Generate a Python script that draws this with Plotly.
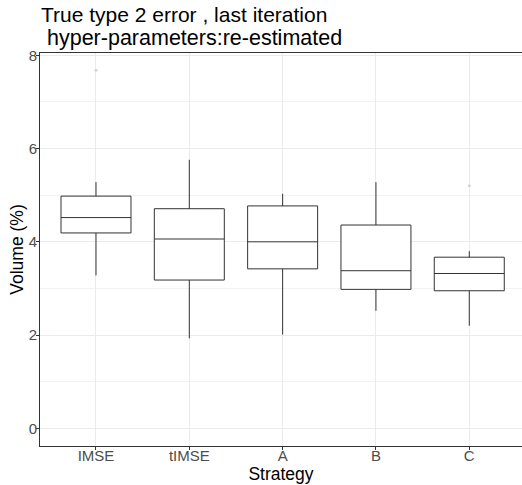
import plotly.graph_objects as go

# Strategies compared and their volume summaries (%)
strategies = ["IMSE", "tIMSE", "A", "B", "C"]
lower_whisker = [3.28, 1.93, 2.01, 2.52, 2.20]
q1_values = [4.19, 3.18, 3.42, 2.98, 2.95]
medians = [4.52, 4.06, 4.00, 3.38, 3.32]
q3_values = [4.98, 4.71, 4.77, 4.36, 3.67]
upper_whisker = [5.28, 5.76, 5.03, 5.28, 3.80]

# Points beyond the whiskers
outlier_strategy = ["IMSE", "C"]
outlier_values = [7.68, 5.20]

positions = list(range(len(strategies)))
pos_of = {s: i for i, s in enumerate(strategies)}

fig = go.Figure()

fig.add_trace(go.Box(
    x=positions,
    q1=q1_values,
    median=medians,
    q3=q3_values,
    lowerfence=lower_whisker,
    upperfence=upper_whisker,
    width=0.75,
    whiskerwidth=0,
    boxpoints=False,
    fillcolor="white",
    line=dict(color="#333333", width=1),
    showlegend=False,
    hoverinfo="skip",
))

fig.add_trace(go.Scatter(
    x=[pos_of[s] for s in outlier_strategy],
    y=outlier_values,
    mode="markers",
    marker=dict(color="#d3d3d3", size=3),
    showlegend=False,
    hoverinfo="skip",
))

font_family = "Liberation Sans, Arial, sans-serif"

fig.update_layout(
    width=522,
    height=485,
    autosize=False,
    margin=dict(l=40, r=0, t=53, b=39),
    paper_bgcolor="white",
    plot_bgcolor="white",
    font=dict(family=font_family, color="#000000"),
    title=dict(
        text="True type 2 error , last iteration",
        xref="paper", x=0, xanchor="left",
        yref="container", y=1, yanchor="top",
        pad=dict(t=7, l=1),
        font=dict(size=21, color="#000000"),
    ),
    xaxis=dict(
        range=[-0.6, 4.565],
        tickmode="array",
        tickvals=positions,
        ticktext=strategies,
        tickfont=dict(size=15, color="#4d4d4d"),
        ticks="outside",
        ticklen=3,
        tickcolor="#333333",
        ticklabelstandoff=-7,
        showgrid=True,
        gridcolor="#ebebeb",
        gridwidth=1,
        showline=True,
        linecolor="#333333",
        linewidth=1,
        mirror=True,
        zeroline=False,
        title=dict(text="Strategy", font=dict(size=17.5, color="#000000"), standoff=0),
    ),
    yaxis=dict(
        range=[-0.38, 8.05],
        tickmode="array",
        tickvals=[0, 2, 4, 6, 8],
        tickfont=dict(size=15, color="#4d4d4d"),
        ticks="outside",
        ticklen=3,
        tickcolor="#333333",
        ticklabelstandoff=-4,
        showgrid=True,
        gridcolor="#ebebeb",
        gridwidth=1,
        minor=dict(tickvals=[1, 3, 5, 7], showgrid=True, gridcolor="#f2f2f2", gridwidth=1, ticks=""),
        showline=True,
        linecolor="#333333",
        linewidth=1,
        zeroline=False,
        title=dict(text="Volume (%)", font=dict(size=17.5, color="#000000"), standoff=0),
    ),
    annotations=[
        dict(text="hyper-parameters:re-estimated", xref="paper", yref="paper",
             x=0.3205, y=1, xanchor="center", yanchor="bottom", yshift=1,
             showarrow=False, font=dict(size=21.5, color="#000000")),
    ],
)

fig.write_html("out.html")
